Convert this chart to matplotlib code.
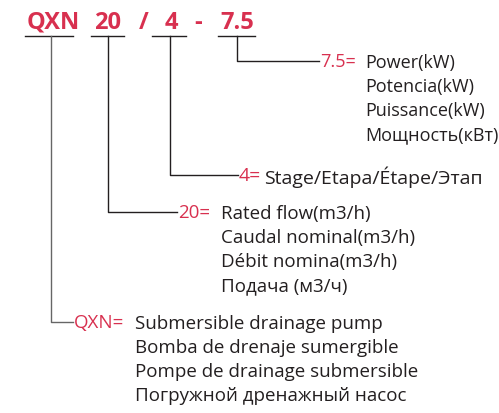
import matplotlib.pyplot as plt

# model code parts and their explanations
codes = ["QXN", "20", "4", "7.5"]
code_x = [53, 108, 171, 237]          # centre of each code part in the header
labels = ["QXN=", "20=", "4=", "7.5="]
texts = [
    ["Submersible drainage pump", "Bomba de drenaje sumergible",
     "Pompe de drainage submersible", "Погружной дренажный насос"],
    ["Rated flow(m3/h)", "Caudal nominal(m3/h)", "Débit nomina(m3/h)", "Подача (м3/ч)"],
    ["Stage/Etapa/Étape/Этап"],
    ["Power(kW)", "Potencia(kW)", "Puissance(kW)", "Мощность(кВт)"],
]
under = [(25, 73), (91, 124), (152, 186), (218, 255)]
stem_x = [51, 108, 170, 237]
branch_y = [322, 212, 175, 61]
branch_end = [73, 177, 238, 319]
text_x = [135, 221, 264, 365]
sizes = [13.5, 13.5, 14, 13]
seps = [("/", 144), ("-", 198)]

red = "#d8304f"
dark = "#231f20"
W, H = 499, 413

fig = plt.figure(figsize=(W / 100, H / 100), dpi=100)
ax = fig.add_axes([0, 0, 1, 1])
ax.set_xlim(0, W)
ax.set_ylim(H, 0)
ax.axis("off")

font = "Open Sans"
under_y = 36
for code, cx, (u0, u1) in zip(codes, code_x, under):
    ax.text(cx, 23, code, color=red, fontsize=17, fontweight="bold",
            family=font, ha="center", va="center")
    ax.plot([u0, u1], [under_y, under_y], color=dark, lw=1)
for s, sx in seps:
    ax.text(sx, 23, s, color=red, fontsize=17, fontweight="bold",
            family=font, ha="center", va="center")

for i in range(4):
    sx = stem_x[i]
    by = branch_y[i]
    lc = "#666666" if i == 0 else dark
    ax.plot([sx, sx, branch_end[i]], [under_y, by, by], color=lc, lw=1)
    ax.text(branch_end[i] + 1, by + 1, labels[i], color=red, fontsize=sizes[i],
            family=font, ha="left", va="center")
    for j, t in enumerate(texts[i]):
        ax.text(text_x[i], by + 2 + j * 24, t, color=dark, fontsize=sizes[i],
                family=font, ha="left", va="center")

fig.savefig("out.png", dpi=100, facecolor="white")
